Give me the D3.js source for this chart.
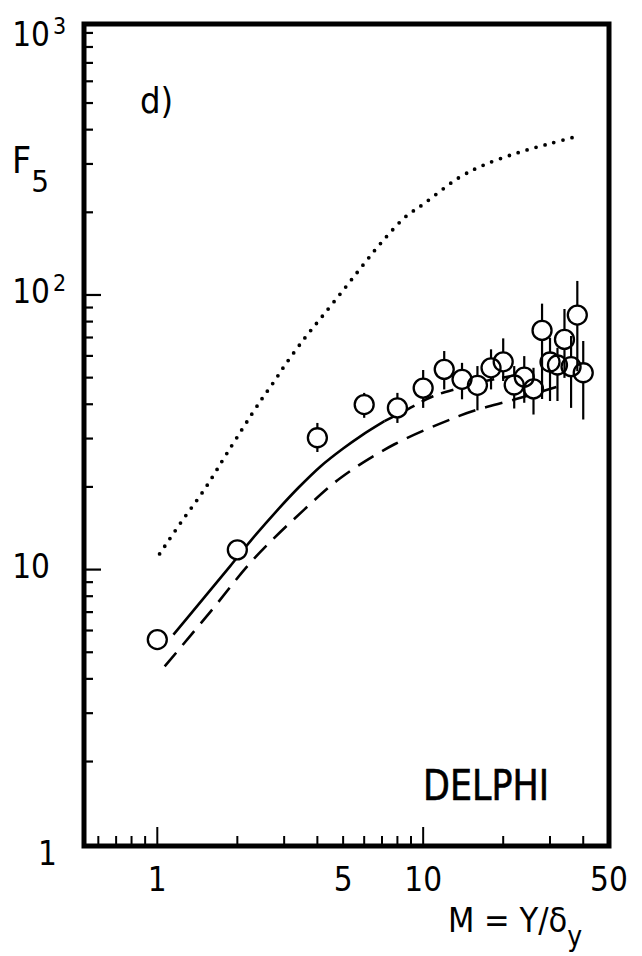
<!DOCTYPE html>
<html>
<head>
<meta charset="utf-8">
<script src="https://cdn.jsdelivr.net/npm/d3@7"></script>
<style>
  html, body { margin: 0; padding: 0; background: #fff; }
  svg { display: block; }
  text { font-family: "DejaVu Sans Condensed", "DejaVu Sans", sans-serif; fill: #000; }
</style>
</head>
<body>
<svg id="chart" width="642" height="956"></svg>
<script>

/* measured points: M = Y/dy and F5 with error range */
var mValues = [1, 2, 4, 6, 8, 10, 12, 14, 16, 18, 20, 22, 24, 26, 28, 30, 32, 34, 36, 38, 40]
var f5Values = [5.56, 11.8, 30.2, 39.9, 38.8, 45.8, 53.6, 49.3, 46.9, 54.3, 57.1, 47.0, 50.2, 45.5, 74.3, 57.0, 55.6, 68.9, 54.8, 84.5, 52.1]
var f5Low  = [5.56, 11.8, 26.8, 35.7, 34.2, 38.8, 45.3, 41.7, 38.0, 45.3, 48.6, 38.6, 40.5, 36.7, 41.8, 41.1, 41.1, 49.9, 38.8, 52.8, 35.2]
var f5High = [5.56, 11.8, 34.2, 44.0, 44.0, 53.3, 62.5, 56.6, 55.1, 63.4, 69.5, 55.1, 59.9, 54.3, 93.0, 69.9, 64.2, 88.9, 70.9, 112.5, 68.0]

/* model curves */
var solidM = [1.15, 1.5, 1.88, 2.24, 2.82, 3.4, 4.12, 5.0, 5.84, 7.15]
var solidF = [5.8, 7.9, 10.3, 12.7, 16.4, 19.9, 23.8, 27.6, 30.7, 34.7]
var dashTailM = [7.15, 8.5, 10.9, 13.6, 17, 21, 25]
var dashTailF = [34.7, 37.8, 42.8, 45.7, 48.5, 50.5, 52]
var lowerM = [1.066, 1.58, 2.3, 3.56, 4.9, 7.8, 13.6, 16.1, 22.2, 33.4]
var lowerF = [4.44, 7.0, 10.9, 16.5, 21.6, 28.6, 36.2, 38.3, 41.7, 46.9]
var dottedM = [1.02, 1.23, 1.5, 1.85, 2.43, 2.73, 3.04, 3.6, 4.19, 5.0, 5.77, 6.6, 7.4, 8.55, 10, 13.6, 17, 22.8, 30, 37.5]
var dottedF = [11.4, 14.9, 19.5, 27, 40.8, 47.9, 56, 70, 84, 104, 124, 146, 166, 192, 214, 267, 298, 330, 356, 377]

/* axes */
var mDomain = [0.53, 50]
var fDomain = [0.985, 970]
var xMajor = [1, 10]
var xMinor = [0.6, 0.7, 0.8, 0.9, 2, 3, 4, 5, 6, 7, 8, 9, 20, 30, 40]
var xLabels = [1, 5, 10, 50]
var yMajor = [10, 100]
var yMinor = [2, 3, 4, 5, 6, 7, 8, 9, 20, 30, 40, 50, 60, 70, 80, 90, 200, 300, 400, 500, 600, 700, 800, 900]
var yLabelValues = [1, 10, 100, 1000]
var yLabelBase = ["1", "10", "10", "10"]
var yLabelExp = ["", "", "2", "3"]

var layout = {
  left: 84, right: 609, top: 24, bottom: 846,
  frameWidth: 5,
  majorTick: 19, minorTick: 10,
  yMajorTick: 17, yMinorTick: 9,
  circleR: 9.5,
  tickFont: 33
}

var x = d3.scaleLog().domain(mDomain).range([layout.left, layout.right])
var y = d3.scaleLog().domain(fDomain).range([layout.bottom, layout.top])

var svg = d3.select("#chart")

function zipPts(ms, fs) {
  return ms.map(function(m, i) { return [x(m), y(fs[i])] })
}
var line = d3.line().curve(d3.curveCatmullRom.alpha(0.5))

/* curves */
svg.append("path")
  .attr("d", line(zipPts(dottedM, dottedF)))
  .attr("fill", "none")
  .attr("stroke", "#000")
  .attr("stroke-width", 3.8)
  .attr("stroke-linecap", "round")
  .attr("stroke-dasharray", "0 9.3")

svg.append("path")
  .attr("d", line(zipPts(solidM, solidF)))
  .attr("fill", "none")
  .attr("stroke", "#000")
  .attr("stroke-width", 2.6)

svg.append("path")
  .attr("d", line(zipPts(dashTailM, dashTailF)))
  .attr("fill", "none")
  .attr("stroke", "#000")
  .attr("stroke-width", 2.6)
  .attr("stroke-dasharray", "13 8")

svg.append("path")
  .attr("d", line(zipPts(lowerM, lowerF)))
  .attr("fill", "none")
  .attr("stroke", "#000")
  .attr("stroke-width", 2.6)
  .attr("stroke-dasharray", "18 10")

/* data points */
var pts = mValues.map(function(m, i) {
  return { m: m, f: f5Values[i], lo: f5Low[i], hi: f5High[i] }
})

svg.selectAll(".mask").data(pts).enter()
  .append("circle")
  .attr("class", "mask")
  .attr("cx", function(d) { return x(d.m) })
  .attr("cy", function(d) { return y(d.f) })
  .attr("r", layout.circleR)
  .attr("fill", "#fff")

svg.selectAll(".errUp").data(pts).enter()
  .append("line")
  .attr("class", "errUp")
  .attr("x1", function(d) { return x(d.m) })
  .attr("x2", function(d) { return x(d.m) })
  .attr("y1", function(d) { return y(d.hi) })
  .attr("y2", function(d) { return Math.max(y(d.hi), y(d.f) - layout.circleR) })
  .attr("stroke", "#000")
  .attr("stroke-width", 2.2)

svg.selectAll(".errDown").data(pts).enter()
  .append("line")
  .attr("class", "errDown")
  .attr("x1", function(d) { return x(d.m) })
  .attr("x2", function(d) { return x(d.m) })
  .attr("y1", function(d) { return Math.min(y(d.lo), y(d.f) + layout.circleR) })
  .attr("y2", function(d) { return y(d.lo) })
  .attr("stroke", "#000")
  .attr("stroke-width", 2.2)

svg.selectAll(".pt").data(pts).enter()
  .append("circle")
  .attr("class", "pt")
  .attr("cx", function(d) { return x(d.m) })
  .attr("cy", function(d) { return y(d.f) })
  .attr("r", layout.circleR)
  .attr("fill", "none")
  .attr("stroke", "#000")
  .attr("stroke-width", 2.3)

/* frame */
svg.append("rect")
  .attr("x", x(mDomain[0]))
  .attr("y", y(fDomain[1]))
  .attr("width", x(mDomain[1]) - x(mDomain[0]))
  .attr("height", y(fDomain[0]) - y(fDomain[1]))
  .attr("fill", "none")
  .attr("stroke", "#000")
  .attr("stroke-width", layout.frameWidth)

/* x ticks, pointing up from the bottom edge */
svg.selectAll(".xTick").data(xMajor.concat(xMinor)).enter()
  .append("line")
  .attr("class", "xTick")
  .attr("x1", function(d) { return x(d) })
  .attr("x2", function(d) { return x(d) })
  .attr("y1", layout.bottom)
  .attr("y2", function(d) {
    return layout.bottom - (xMajor.indexOf(d) >= 0 ? layout.majorTick : layout.minorTick)
  })
  .attr("stroke", "#000")
  .attr("stroke-width", 2)

/* y ticks, pointing right from the left edge */
svg.selectAll(".yTick").data(yMajor.concat(yMinor)).enter()
  .append("line")
  .attr("class", "yTick")
  .attr("y1", function(d) { return y(d) })
  .attr("y2", function(d) { return y(d) })
  .attr("x1", layout.left)
  .attr("x2", function(d) {
    return layout.left + (yMajor.indexOf(d) >= 0 ? layout.yMajorTick : layout.yMinorTick)
  })
  .attr("stroke", "#000")
  .attr("stroke-width", 2.2)

/* x tick labels */
svg.selectAll(".xLab").data(xLabels).enter()
  .append("text")
  .attr("class", "xLab")
  .attr("x", function(d) { return x(d) })
  .attr("y", 891)
  .attr("text-anchor", "middle")
  .style("font-size", layout.tickFont + "px")
  .text(function(d) { return d })

/* y tick labels: the end labels sit a bit lower than their tick */
function yLabelBaseline(v) {
  if (v === 1) return y(v) + 21
  if (v === 1000) return y(v) + 26
  return y(v) + 8
}
yLabelValues.forEach(function(v, i) {
  var t = svg.append("text")
    .attr("x", v === 1 ? 57 : 50)
    .attr("y", yLabelBaseline(v))
    .attr("text-anchor", "end")
    .style("font-size", layout.tickFont + "px")
    .text(yLabelBase[i])
  if (yLabelExp[i]) {
    svg.append("text")
      .attr("x", 53)
      .attr("y", yLabelBaseline(v) - 12)
      .style("font-size", "23px")
      .text(yLabelExp[i])
  }
})

/* axis titles */
var yTitle = svg.append("text")
  .attr("x", 12)
  .attr("y", 173)
  .style("font-size", "37px")
yTitle.append("tspan").text("F")
yTitle.append("tspan").attr("dy", 19).style("font-size", "31px").text("5")

var xTitle = svg.append("text")
  .attr("x", 448)
  .attr("y", 932)
  .style("font-size", "34px")
xTitle.append("tspan").text("M = Y/δ")
xTitle.append("tspan").attr("dy", 14).style("font-size", "28px").text("y")

/* panel tags */
svg.append("text")
  .attr("x", 140)
  .attr("y", 113)
  .style("font-size", "36px")
  .text("d)")

svg.append("text")
  .attr("x", 423)
  .attr("y", 800)
  .attr("textLength", 126)
  .attr("lengthAdjust", "spacingAndGlyphs")
  .style("font-size", "42px")
  .style("stroke", "#000")
  .style("stroke-width", 0.6)
  .text("DELPHI")

</script>
</body>
</html>
